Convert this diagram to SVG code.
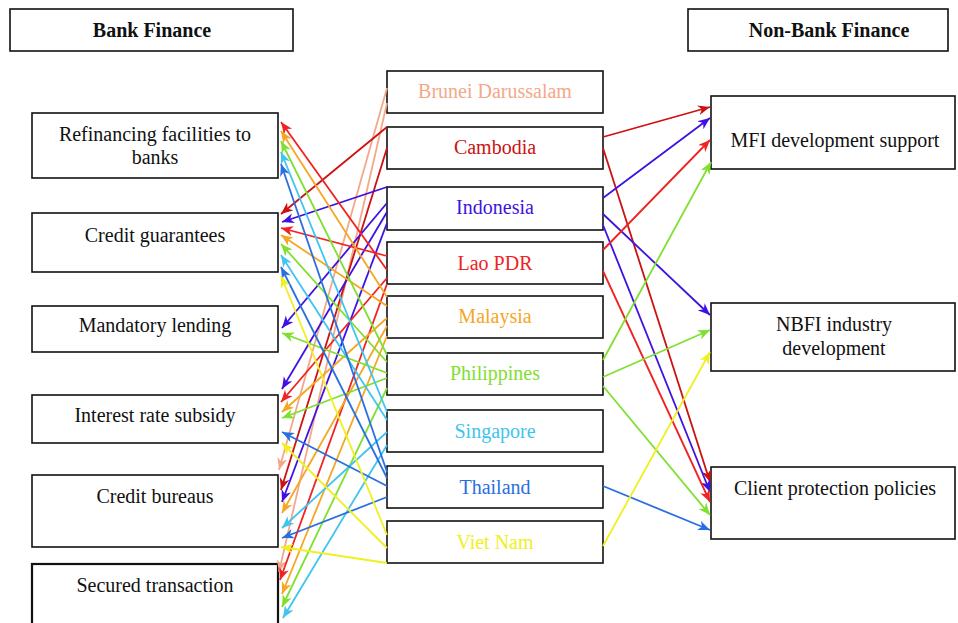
<svg xmlns="http://www.w3.org/2000/svg" width="958" height="623" viewBox="0 0 958 623">
<style>
.box{fill:#fff;stroke:#111;stroke-width:1.6}
.t{font-family:"Liberation Serif","Times New Roman",serif;font-size:20px;text-anchor:middle;fill:#111}
.h{font-weight:bold}
.c line{stroke-width:1.8;fill:none}
.sal{stroke:#f4a888}.cam{stroke:#cc1111}.ind{stroke:#3e12e0}.lao{stroke:#f02222}.mal{stroke:#f5a623}.phi{stroke:#80e030}.sin{stroke:#40c4f0}.tha{stroke:#2a6fe0}.vie{stroke:#f0f020}
</style>
<defs>
<marker id="m-sal" markerUnits="userSpaceOnUse" markerWidth="13" markerHeight="11" refX="12" refY="5" orient="auto"><path d="M0,0 L12,5 L0,10 L3.5,5 z" fill="#f4a888"/></marker>
<marker id="m-cam" markerUnits="userSpaceOnUse" markerWidth="13" markerHeight="11" refX="12" refY="5" orient="auto"><path d="M0,0 L12,5 L0,10 L3.5,5 z" fill="#cc1111"/></marker>
<marker id="m-ind" markerUnits="userSpaceOnUse" markerWidth="13" markerHeight="11" refX="12" refY="5" orient="auto"><path d="M0,0 L12,5 L0,10 L3.5,5 z" fill="#3e12e0"/></marker>
<marker id="m-lao" markerUnits="userSpaceOnUse" markerWidth="13" markerHeight="11" refX="12" refY="5" orient="auto"><path d="M0,0 L12,5 L0,10 L3.5,5 z" fill="#f02222"/></marker>
<marker id="m-mal" markerUnits="userSpaceOnUse" markerWidth="13" markerHeight="11" refX="12" refY="5" orient="auto"><path d="M0,0 L12,5 L0,10 L3.5,5 z" fill="#f5a623"/></marker>
<marker id="m-phi" markerUnits="userSpaceOnUse" markerWidth="13" markerHeight="11" refX="12" refY="5" orient="auto"><path d="M0,0 L12,5 L0,10 L3.5,5 z" fill="#80e030"/></marker>
<marker id="m-sin" markerUnits="userSpaceOnUse" markerWidth="13" markerHeight="11" refX="12" refY="5" orient="auto"><path d="M0,0 L12,5 L0,10 L3.5,5 z" fill="#40c4f0"/></marker>
<marker id="m-tha" markerUnits="userSpaceOnUse" markerWidth="13" markerHeight="11" refX="12" refY="5" orient="auto"><path d="M0,0 L12,5 L0,10 L3.5,5 z" fill="#2a6fe0"/></marker>
<marker id="m-vie" markerUnits="userSpaceOnUse" markerWidth="13" markerHeight="11" refX="12" refY="5" orient="auto"><path d="M0,0 L12,5 L0,10 L3.5,5 z" fill="#f0f020"/></marker>
</defs>

<g id="bank-finance"><rect class="box" x="10" y="9" width="283" height="42"/><text class="t h" x="152" y="37">Bank Finance</text></g>
<g id="non-bank-finance"><rect class="box" x="688" y="9" width="260" height="42"/><text class="t h" x="829" y="37">Non-Bank Finance</text></g>

<g id="refinancing"><rect class="box" x="32" y="113" width="246" height="65"/><text class="t" x="155" y="141">Refinancing facilities to</text><text class="t" x="155" y="164">banks</text></g>
<g id="credit-guarantees"><rect class="box" x="32" y="213" width="246" height="59"/><text class="t" x="155" y="242">Credit guarantees</text></g>
<g id="mandatory-lending"><rect class="box" x="32" y="306" width="246" height="46"/><text class="t" x="155" y="332">Mandatory lending</text></g>
<g id="interest-rate-subsidy"><rect class="box" x="32" y="395" width="246" height="48"/><text class="t" x="155" y="422">Interest rate subsidy</text></g>
<g id="credit-bureaus"><rect class="box" x="32" y="475" width="246" height="72"/><text class="t" x="155" y="503">Credit bureaus</text></g>
<g id="secured-transaction"><rect class="box" x="32" y="564" width="246" height="70" style="stroke-width:2.2"/><text class="t" x="155" y="592">Secured transaction</text></g>

<g id="brunei"><rect class="box" x="387" y="71" width="216" height="42"/><text class="t" x="495" y="98" style="fill:#f4a888">Brunei Darussalam</text></g>
<g id="cambodia"><rect class="box" x="387" y="127" width="216" height="42"/><text class="t" x="495" y="154" style="fill:#cc1111">Cambodia</text></g>
<g id="indonesia"><rect class="box" x="387" y="187" width="216" height="43"/><text class="t" x="495" y="214" style="fill:#3e12e0">Indonesia</text></g>
<g id="lao-pdr"><rect class="box" x="387" y="242" width="216" height="42"/><text class="t" x="495" y="270" style="fill:#f02222">Lao PDR</text></g>
<g id="malaysia"><rect class="box" x="387" y="296" width="216" height="42"/><text class="t" x="495" y="323" style="fill:#f5a623">Malaysia</text></g>
<g id="philippines"><rect class="box" x="387" y="353" width="216" height="42"/><text class="t" x="495" y="380" style="fill:#80e030">Philippines</text></g>
<g id="singapore"><rect class="box" x="387" y="410" width="216" height="42"/><text class="t" x="495" y="438" style="fill:#40c4f0">Singapore</text></g>
<g id="thailand"><rect class="box" x="387" y="466" width="216" height="42"/><text class="t" x="495" y="494" style="fill:#2a6fe0">Thailand</text></g>
<g id="viet-nam"><rect class="box" x="387" y="521" width="216" height="42"/><text class="t" x="495" y="549" style="fill:#f0f020">Viet Nam</text></g>

<g id="mfi"><rect class="box" x="711" y="96" width="244" height="73"/><text class="t" x="835" y="147">MFI development support</text></g>
<g id="nbfi"><rect class="box" x="711" y="303" width="244" height="68"/><text class="t" x="834" y="331">NBFI industry</text><text class="t" x="834" y="355">development</text></g>
<g id="client-protection"><rect class="box" x="711" y="467" width="244" height="72"/><text class="t" x="835" y="495">Client protection policies</text></g>

<g id="connectors" class="c">
<line class="sal" x1="387" y1="88" x2="279" y2="470" marker-end="url(#m-sal)"/>
<line class="sal" x1="387" y1="103" x2="279" y2="572" marker-end="url(#m-sal)"/>
<line class="cam" x1="387" y1="127" x2="281" y2="214" marker-end="url(#m-cam)"/>
<line class="cam" x1="387" y1="148" x2="281" y2="490" marker-end="url(#m-cam)"/>
<line class="cam" x1="603" y1="137" x2="710" y2="107" marker-end="url(#m-cam)"/>
<line class="cam" x1="603" y1="148" x2="710" y2="482" marker-end="url(#m-cam)"/>
<line class="ind" x1="387" y1="187" x2="282" y2="222" marker-end="url(#m-ind)"/>
<line class="ind" x1="387" y1="203" x2="282" y2="328" marker-end="url(#m-ind)"/>
<line class="ind" x1="387" y1="212" x2="282" y2="389" marker-end="url(#m-ind)"/>
<line class="ind" x1="387" y1="223" x2="282" y2="502" marker-end="url(#m-ind)"/>
<line class="ind" x1="603" y1="198" x2="710" y2="118" marker-end="url(#m-ind)"/>
<line class="ind" x1="603" y1="214" x2="710" y2="315" marker-end="url(#m-ind)"/>
<line class="ind" x1="603" y1="225" x2="710" y2="492" marker-end="url(#m-ind)"/>
<line class="lao" x1="387" y1="270" x2="281" y2="122" marker-end="url(#m-lao)"/>
<line class="lao" x1="387" y1="256" x2="281" y2="228" marker-end="url(#m-lao)"/>
<line class="lao" x1="387" y1="278" x2="281" y2="402" marker-end="url(#m-lao)"/>
<line class="lao" x1="387" y1="284" x2="280" y2="580" marker-end="url(#m-lao)"/>
<line class="lao" x1="603" y1="250" x2="710" y2="140" marker-end="url(#m-lao)"/>
<line class="lao" x1="603" y1="271" x2="710" y2="502" marker-end="url(#m-lao)"/>
<line class="mal" x1="387" y1="297" x2="281" y2="131" marker-end="url(#m-mal)"/>
<line class="mal" x1="387" y1="306" x2="281" y2="235" marker-end="url(#m-mal)"/>
<line class="mal" x1="387" y1="318" x2="282" y2="412" marker-end="url(#m-mal)"/>
<line class="mal" x1="387" y1="326" x2="282" y2="513" marker-end="url(#m-mal)"/>
<line class="mal" x1="387" y1="336" x2="282" y2="594" marker-end="url(#m-mal)"/>
<line class="phi" x1="387" y1="355" x2="281" y2="141" marker-end="url(#m-phi)"/>
<line class="phi" x1="387" y1="362" x2="281" y2="244" marker-end="url(#m-phi)"/>
<line class="phi" x1="387" y1="373" x2="282" y2="333" marker-end="url(#m-phi)"/>
<line class="phi" x1="387" y1="378" x2="282" y2="418" marker-end="url(#m-phi)"/>
<line class="phi" x1="387" y1="388" x2="282" y2="607" marker-end="url(#m-phi)"/>
<line class="phi" x1="603" y1="360" x2="711" y2="162" marker-end="url(#m-phi)"/>
<line class="phi" x1="603" y1="377" x2="710" y2="330" marker-end="url(#m-phi)"/>
<line class="phi" x1="603" y1="386" x2="710" y2="515" marker-end="url(#m-phi)"/>
<line class="sin" x1="387" y1="412" x2="281" y2="152" marker-end="url(#m-sin)"/>
<line class="sin" x1="387" y1="420" x2="281" y2="255" marker-end="url(#m-sin)"/>
<line class="sin" x1="387" y1="432" x2="282" y2="528" marker-end="url(#m-sin)"/>
<line class="sin" x1="387" y1="445" x2="283" y2="618" marker-end="url(#m-sin)"/>
<line class="tha" x1="387" y1="472" x2="281" y2="164" marker-end="url(#m-tha)"/>
<line class="tha" x1="387" y1="478" x2="281" y2="267" marker-end="url(#m-tha)"/>
<line class="tha" x1="387" y1="486" x2="282" y2="432" marker-end="url(#m-tha)"/>
<line class="tha" x1="387" y1="497" x2="282" y2="538" marker-end="url(#m-tha)"/>
<line class="tha" x1="603" y1="486" x2="710" y2="530" marker-end="url(#m-tha)"/>
<line class="vie" x1="387" y1="535" x2="281" y2="276" marker-end="url(#m-vie)"/>
<line class="vie" x1="387" y1="548" x2="282" y2="443" marker-end="url(#m-vie)"/>
<line class="vie" x1="387" y1="563" x2="281" y2="547" marker-end="url(#m-vie)"/>
<line class="vie" x1="603" y1="546" x2="710" y2="352" marker-end="url(#m-vie)"/>
</g>
</svg>
